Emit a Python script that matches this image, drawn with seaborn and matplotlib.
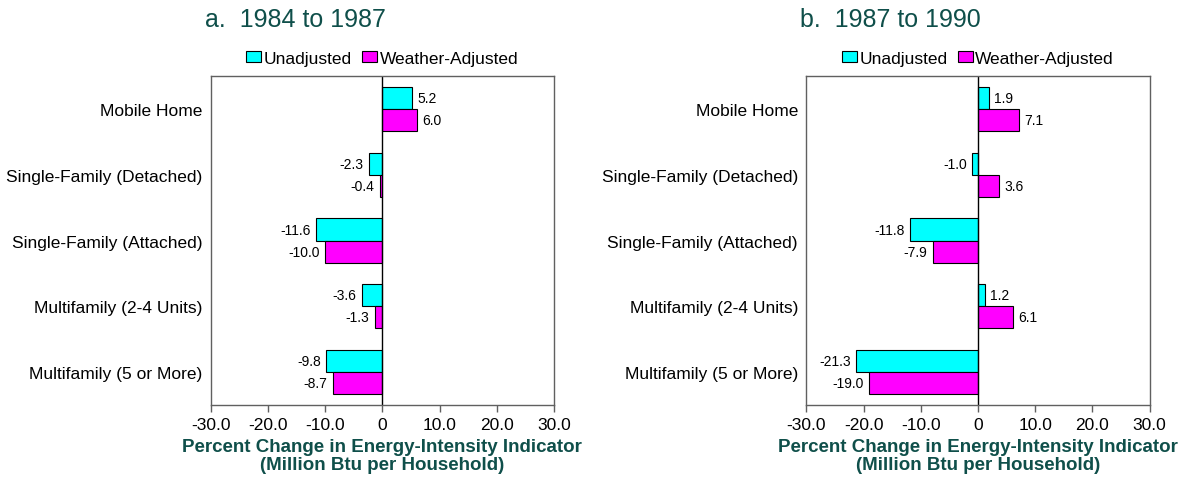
import matplotlib.pyplot as plt
import pandas as pd
import seaborn as sns
from matplotlib.patches import Patch

categories = ["Mobile Home", "Single-Family (Detached)", "Single-Family (Attached)",
              "Multifamily (2-4 Units)", "Multifamily (5 or More)"]
series = ["Unadjusted", "Weather-Adjusted"]

# panel a: 1984 to 1987
a_unadj = [5.2, -2.3, -11.6, -3.6, -9.8]
a_wadj = [6.0, -0.4, -10.0, -1.3, -8.7]
# panel b: 1987 to 1990
b_unadj = [1.9, -1.0, -11.8, 1.2, -21.3]
b_wadj = [7.1, 3.6, -7.9, 6.1, -19.0]

titles = ["a.  1984 to 1987", "b.  1987 to 1990"]
xticks = [-30, -20, -10, 0, 10, 20, 30]
xticklabels = ["-30.0", "-20.0", "-10.0", "0", "10.0", "20.0", "30.0"]
colors = ["#00ffff", "#ff00ff"]
teal = "#0f4f4a"


def long_df(unadj, wadj):
    rows = []
    for c, u, w in zip(categories, unadj, wadj):
        rows.append({"category": c, "series": series[0], "value": u})
        rows.append({"category": c, "series": series[1], "value": w})
    return pd.DataFrame(rows)


sns.set_style("white")
plt.rcParams["font.family"] = ["Liberation Sans", "DejaVu Sans"]
plt.rcParams["text.color"] = "black"
plt.rcParams["xtick.color"] = "black"
plt.rcParams["ytick.color"] = "black"

fig = plt.figure(figsize=(11.84, 4.85), dpi=100)
axes = [fig.add_axes([0.178, 0.163, 0.290, 0.678]),
        fig.add_axes([0.681, 0.163, 0.290, 0.678])]
title_x = [295 / 1184, 890 / 1184]

for ax, (u, w), title, tx in zip(axes, [(a_unadj, a_wadj), (b_unadj, b_wadj)], titles, title_x):
    df = long_df(u, w)
    sns.barplot(df, y="category", x="value", hue="series", orient="h",
                palette=colors, saturation=1, edgecolor="black", linewidth=0.8,
                width=0.67, errorbar=None, legend=False, ax=ax)
    for cont in ax.containers:
        ax.bar_label(cont, fmt="%.1f", padding=4, fontsize=10, color="black")
    ax.axvline(0, color="black", linewidth=1)
    ax.set_xlim(-30, 30)
    ax.set_xticks(xticks)
    ax.set_xticklabels(xticklabels, fontsize=12.5)
    ax.tick_params(axis="x", direction="out", length=5, width=1, color="#606060", pad=4, bottom=True)
    ax.tick_params(axis="y", length=0, labelsize=12.5, pad=6)
    ax.set_ylabel("")
    ax.set_xlabel("Percent Change in Energy-Intensity Indicator\n(Million Btu per Household)",
                  fontsize=13.5, fontweight="bold", color=teal, labelpad=4, linespacing=1.1)
    for s in ax.spines.values():
        s.set_color("#606060")
        s.set_linewidth(1)
    handles = [Patch(facecolor=c, edgecolor="black", linewidth=0.8, label=l) for c, l in zip(colors, series)]
    ax.legend(handles=handles, loc="center", bbox_to_anchor=(0.5, 1 + 18 / 329), ncol=2,
              frameon=False, fontsize=12.5, handlelength=0.85, handleheight=0.65,
              handletextpad=0.15, columnspacing=0.6, borderpad=0)
    fig.text(tx, 1 - 20 / 485, title, ha="center", va="center", fontsize=18, color=teal)

plt.savefig("out.png", dpi=100)
plt.close()
